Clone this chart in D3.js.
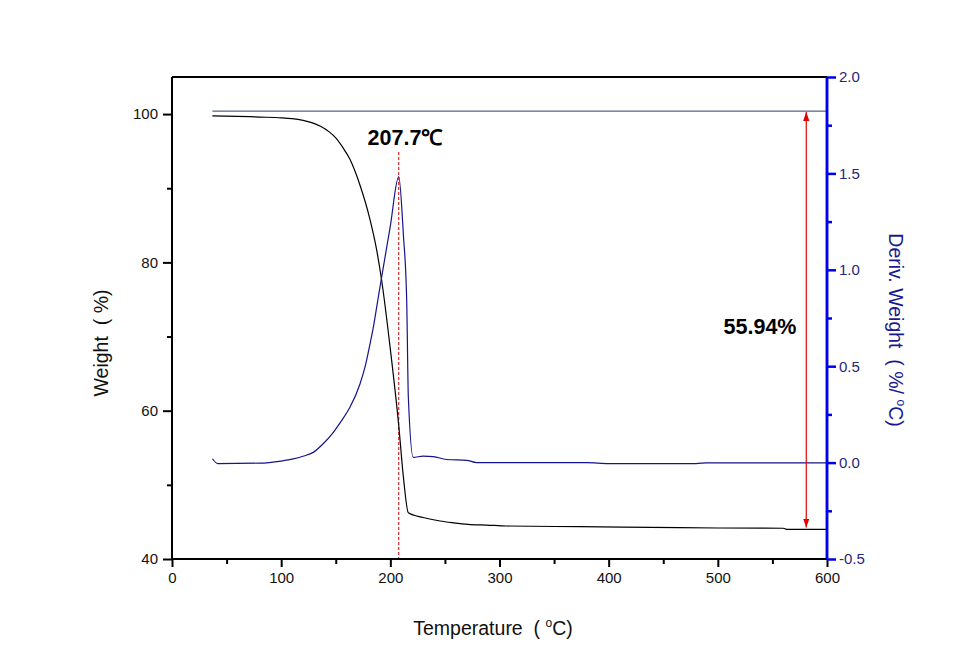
<!DOCTYPE html>
<html><head><meta charset="utf-8">
<script src="https://cdn.jsdelivr.net/npm/d3@7"></script>
<style>body{margin:0;background:#fff}svg{display:block}text{font-family:"Liberation Sans",Arial,sans-serif;white-space:pre}</style>
</head><body><svg id="c" width="961" height="671"></svg>
<script>
// Weight (%) curve
const weightT = [37,60,80,100,110,120,128,136,144,150,156,163,172,181,187.5,192,200,207.7,212,216.5,230,245.5,258,271.4,288.3,306.6,373.7,465,500,560,563,600];
const weightV = [99.77,99.70,99.60,99.50,99.38,99.15,98.85,98.35,97.6,96.8,95.6,93.9,90.5,86.0,81.66,77.62,68.3,58.0,51.0,46.24,45.6,45.12,44.88,44.68,44.58,44.45,44.36,44.22,44.18,44.15,44.0,44.0];
// Derivative weight (%/°C) curve
const derivT = [37,42,80,100,111,120,129.4,138,147.8,155,163,172.2,177,181.4,185,187.5,191.5,199.8,207.7,211.9,215,216.5,221,230,239.4,251.6,270,279,380,400,480,490,600];
const derivV = [0.02,-0.005,-0.003,0.008,0.019,0.033,0.053,0.095,0.157,0.215,0.287,0.408,0.5,0.616,0.72,0.806,0.944,1.22,1.483,1.186,0.84,0.339,0.027,0.034,0.031,0.016,0.012,0.0,0.0,-0.005,-0.005,-0.001,-0.001];
// Axis ticks
const xTicks = [0,100,200,300,400,500,600];
const yLTicks = [40,60,80,100];
const yRTicks = [-0.5,0.0,0.5,1.0,1.5,2.0];
// Annotations
const peakT = 207.7, peakLabel = "207.7℃";
const refStart = 37, refWeight = 100.4, endWeight = 44.1, arrowT = 581, lossLabel = "55.94%";

const svg = d3.select("#c");
const L=172,R=827,T=77,B=559;
const x = d3.scaleLinear().domain([0,600]).range([L,R]);
const yL = d3.scaleLinear().domain([40,105]).range([B,T]);
const yR = d3.scaleLinear().domain([-0.5,2.0]).range([B,T]);

const defs = svg.append("defs");
defs.append("clipPath").attr("id","clip").append("rect")
  .attr("x",L).attr("y",T).attr("width",R-L).attr("height",B-T);
defs.append("marker").attr("id","ah").attr("viewBox","0 0 10 10").attr("refX",10).attr("refY",5)
  .attr("markerWidth",9).attr("markerHeight",9).attr("orient","auto-start-reverse").attr("markerUnits","userSpaceOnUse")
  .append("path").attr("d","M0,1.5L10,5L0,8.5Z").attr("fill","#e00000");

const g = svg.append("g").attr("clip-path","url(#clip)");
// reference line
g.append("line").attr("x1",x(refStart)).attr("x2",x(600)).attr("y1",yL(refWeight)).attr("y2",yL(refWeight))
  .attr("stroke","#2e3c60").attr("stroke-width",1);
// dashed peak line
g.append("line").attr("x1",x(peakT)).attr("x2",x(peakT)).attr("y1",152).attr("y2",B)
  .attr("stroke","#d00000").attr("stroke-width",1).attr("stroke-dasharray","3,2");
// curves
const wData = weightT.map((t,i)=>[t,weightV[i]]);
const dData = derivT.map((t,i)=>[t,derivV[i]]);
g.append("path").datum(wData).attr("fill","none").attr("stroke","#000").attr("stroke-width",1.2)
  .attr("d",d3.line().x(d=>x(d[0])).y(d=>yL(d[1])).curve(d3.curveMonotoneX));
g.append("path").datum(dData).attr("fill","none").attr("stroke","#14148c").attr("stroke-width",1.2)
  .attr("d",d3.line().x(d=>x(d[0])).y(d=>yR(d[1])).curve(d3.curveMonotoneX));
// arrow
svg.append("line").attr("x1",x(arrowT)).attr("x2",x(arrowT)).attr("y1",yL(refWeight)+1).attr("y2",yL(endWeight)-1)
  .attr("stroke","#e00000").attr("stroke-width",1.2).attr("marker-start","url(#ah)").attr("marker-end","url(#ah)");

// top border
svg.append("line").attr("x1",L).attr("x2",R).attr("y1",T).attr("y2",T).attr("stroke","#000").attr("stroke-width",2);

function minor(arr){const m=[];for(let i=0;i<arr.length-1;i++)m.push((arr[i]+arr[i+1])/2);return m;}
// bottom axis
const ax = svg.append("g").attr("transform",`translate(0,${B})`);
ax.call(d3.axisBottom(x).tickValues(xTicks).tickFormat(d=>String(d)).tickSize(8).tickPadding(5));
ax.append("g").call(d3.axisBottom(x).tickValues(minor(xTicks)).tickFormat("").tickSize(5));
// left axis
const ay = svg.append("g").attr("transform",`translate(${L},0)`);
ay.call(d3.axisLeft(yL).tickValues(yLTicks).tickFormat(d=>String(d)).tickSize(9).tickPadding(5));
ay.append("g").call(d3.axisLeft(yL).tickValues(minor(yLTicks)).tickFormat("").tickSize(5));
// right axis
const ar = svg.append("g").attr("transform",`translate(${R},0)`);
ar.call(d3.axisRight(yR).tickValues(yRTicks).tickFormat(d=>d.toFixed(1)).tickSize(9).tickPadding(3));
ar.append("g").call(d3.axisRight(yR).tickValues(minor(yRTicks)).tickFormat("").tickSize(5));

[ax,ay].forEach(a=>{a.selectAll("path,line").attr("stroke","#000").attr("stroke-width",2);
  a.selectAll("path.domain").attr("d", a===ax?`M${L},0H${R}`:`M0,${B}V${T}`);
  a.selectAll("text").attr("font-size",15).attr("fill","#111").attr("font-family","'Liberation Sans',Arial,sans-serif");});
ar.selectAll("path,line").attr("stroke","#0000ee").attr("stroke-width",2.5);
ar.selectAll("path.domain").attr("d",`M0,${B}V${T}`);
ar.selectAll("text").attr("font-size",15).attr("fill","#26267a").attr("font-family","'Liberation Sans',Arial,sans-serif");

// axis titles
const xt = svg.append("text").attr("x",493).attr("y",635).attr("text-anchor","middle").attr("font-size",19.5).attr("fill","#111");
xt.append("tspan").text("Temperature  ( ");
xt.append("tspan").attr("dy",-8).attr("font-size",12).text("o");
xt.append("tspan").attr("dy",8).text("C)");
svg.append("text").attr("transform","translate(108,343) rotate(-90)").attr("text-anchor","middle")
  .attr("font-size",19.5).attr("fill","#111").text("Weight  ( %)");
const rt = svg.append("text").attr("transform","translate(889,330) rotate(90)").attr("text-anchor","middle")
  .attr("font-size",19.5).attr("fill","#1a1a90");
rt.append("tspan").text("Deriv. Weight  ( %/ ");
rt.append("tspan").attr("dy",-8).attr("font-size",12).text("o");
rt.append("tspan").attr("dy",8).text("C)");

// annotations
svg.append("text").attr("x",405).attr("y",145).attr("text-anchor","middle").attr("font-size",21.5)
  .attr("font-weight","bold").attr("fill","#000").text(peakLabel);
svg.append("text").attr("x",760).attr("y",334).attr("text-anchor","middle").attr("font-size",21.5)
  .attr("font-weight","bold").attr("fill","#000").text(lossLabel);
</script></body></html>
